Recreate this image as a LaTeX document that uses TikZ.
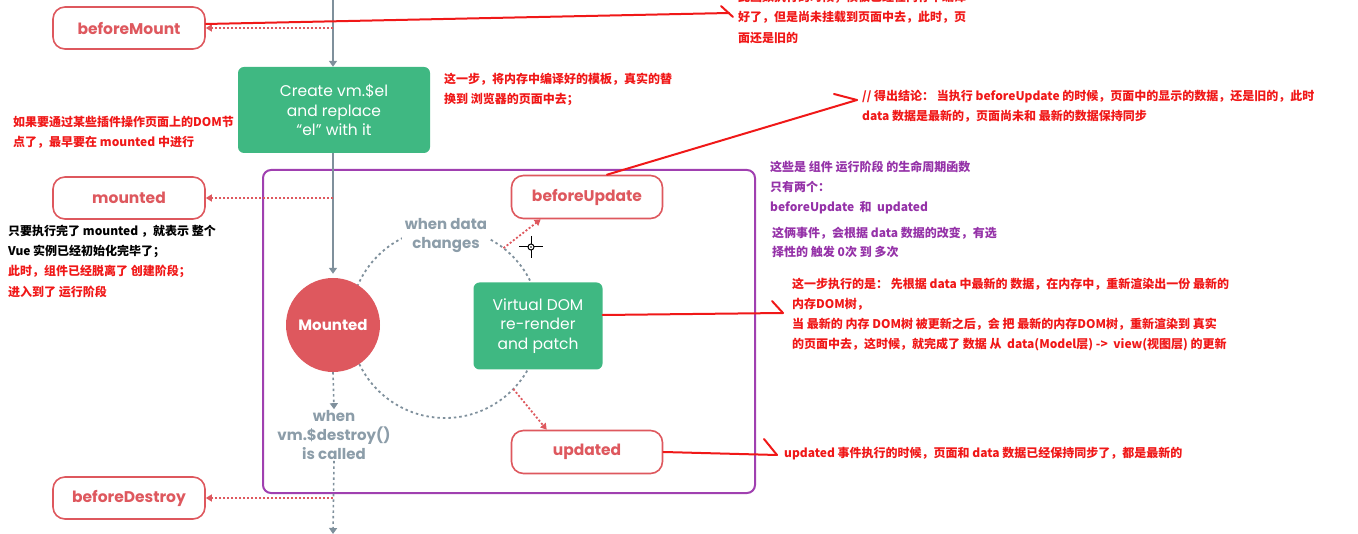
\documentclass[tikz,border=0pt]{standalone}
\usepackage{fontspec}
\setmainfont{Poppins}
\newfontfamily\cjk{Noto Sans CJK SC}
\usetikzlibrary{arrows.meta,calc}

\definecolor{vgreen}{HTML}{3FB882}
\definecolor{hookred}{HTML}{DE585E}
\definecolor{flowgray}{HTML}{7F909C}
\definecolor{labelgray}{HTML}{8C9DA9}
\definecolor{phase}{HTML}{A040B0}
\definecolor{notered}{HTML}{F01818}
\definecolor{notepurple}{HTML}{9532A8}

\tikzset{
  hookbox/.style={draw=hookred, line width=1.6pt, rounded corners=12pt, fill=white,
    minimum width=152pt, minimum height=42pt, text=hookred,
    font=\bfseries\fontsize{15.5}{18}\selectfont},
  stepbox/.style={fill=vgreen, rounded corners=6pt, text=white, align=center,
    font=\fontsize{15.5}{19.5}\selectfont},
  flow/.style={draw=flowgray, line width=1.6pt, -{Triangle[length=6pt,width=8pt]}},
  flowdot/.style={flow, dash pattern=on 2.5pt off 3pt},
  callback/.style={draw=hookred, line width=1.8pt, dash pattern=on 2pt off 2pt,
    -{Triangle[length=6pt,width=7pt]}},
  cond/.style={text=labelgray, fill=white, align=center, inner sep=3pt,
    font=\bfseries\fontsize{15}{19}\selectfont},
  note/.style={anchor=north west, inner sep=0pt, align=left, text=notered,
    font=\cjk\bfseries\fontsize{12}{20.3}\selectfont},
  pointer/.style={draw=notered, line width=2pt, line cap=round},
}

\begin{document}
\begin{tikzpicture}[x=1pt,y=-1pt]
\useasboundingbox (0,0) rectangle (1358,534);

% running phase frame
\draw[phase, line width=2pt, rounded corners=8pt] (263,170) rectangle (755,493);

% update cycle
\node[circle, draw=flowgray, line width=1.8pt, dash pattern=on 2.5pt off 3pt,
      minimum size=190pt, inner sep=0pt, outer sep=0pt] (cycle) at (445,323) {};

% lifecycle steps
\node[hookbox] (bm) at (129,28) {beforeMount};
\node[stepbox, minimum width=192pt, minimum height=86pt] (create) at (334,110)
  {Create vm.\$el\\and replace\\“el” with it};
\node[hookbox] (md) at (129,198) {mounted};
\node[circle, fill=hookred, minimum size=94pt, inner sep=0pt, text=white,
      font=\bfseries\fontsize{15}{18}\selectfont] (mc) at (333,325) {Mounted};
\node[stepbox, minimum width=129pt, minimum height=87pt] (vdom) at (538,326)
  {Virtual DOM\\re-render\\and patch};
\node[hookbox, minimum width=151pt, minimum height=43pt] (bu) at (587,197) {beforeUpdate};
\node[hookbox, minimum width=151pt, minimum height=43pt] (up) at (587,452) {updated};
\node[hookbox] (bd) at (129,498) {beforeDestroy};

\node[cond] (chg) at (446,236) {when data\\changes};
\node[cond, inner sep=1pt] (dst) at (334,435) {when\\vm.\$destroy()\\is called};

% main flow
\coordinate (top) at (333,-2);
\coordinate (bottom) at (333,534);
\draw[flow] (top) -- (create.north -| top);
\draw[flow, shorten >=4pt] (create.south -| top) -- (mc.north);
\draw[flowdot] (mc.south) -- (dst.north);
\draw[flowdot] (dst.south) -- (bottom);

% hook calls
\draw[callback] (top |- bm.east) -- (bm.east);
\draw[callback] (top |- md.east) -- (md.east);
\draw[callback] (top |- bd.east) -- (bd.east);
\draw[callback] (cycle.52) -- ($(bu.south west)+(30,0)$);
\draw[callback] (cycle.-44) -- ($(up.north west)+(36,0)$);

% annotations
\coordinate (n1) at (729,13);
\draw[pointer] ([yshift=4pt]bm.east) -- (n1);
\draw[pointer] ($(n1)+(-8,-7)$) -- ($(n1)+(4,4)$);
\node[note] (t1) at (738,-9)
  {此函数执行的时候，模板已经在内存中编译\\好了，但是尚未挂载到页面中去，此时，页\\面还是旧的};

\node[note] (t2) at (444,73)
  {这一步，将内存中编译好的模板，真实的替\\换到 浏览器的页面中去；};

\node[note] (t3) at (13,116)
  {如果要通过某些插件操作页面上的DOM节\\点了，最早要在 mounted 中进行};

\node[note, text=black] (t4) at (8,224.5)
  {只要执行完了 mounted ，就表示 整个\\Vue 实例已经初始化完毕了；\\\textcolor{notered}{此时，组件已经脱离了 创建阶段；}\\\textcolor{notered}{进入到了 运行阶段}};

\coordinate (n2) at (857,100);
\draw[pointer] ([xshift=20pt]bu.north) -- (n2);
\draw[pointer] (834,94) -- (n2);
\node[note] (t5) at (862,89.5)
  {// 得出结论： 当执行 beforeUpdate 的时候，页面中的显示的数据，还是旧的，此时\\data 数据是最新的，页面尚未和 最新的数据保持同步};

\node[note, text=notepurple] (t6) at (770,160.5)
  {这些是 组件 运行阶段 的生命周期函数\\只有两个：\\beforeUpdate\ \ 和\ \ updated};
\node[note, text=notepurple, font=\cjk\bfseries\fontsize{12}{19.5}\selectfont] (t7) at (772,226.5)
  {这俩事件，会根据 data 数据的改变，有选\\择性的 触发 0次 到 多次};

\coordinate (n3) at (783,313);
\draw[pointer] ([yshift=11pt]vdom.east) -- (n3);
\draw[pointer] (772,301) -- (n3);
\node[note] (t8) at (792,277.5)
  {这一步执行的是： 先根据 data 中最新的 数据，在内存中，重新渲染出一份 最新的\\内存DOM树，\\当 最新的 内存 DOM树 被更新之后，会 把 最新的内存DOM树，重新渲染到 真实\\的页面中去，这时候，就完成了 数据 从\ \ data(Model层) ->\ \ view(视图层) 的更新};

\coordinate (n4) at (777,455);
\draw[pointer] (up.east) -- (n4);
\draw[pointer] (764,439) -- (n4);
\node[note] (t9) at (784,446.5)
  {updated 事件执行的时候，页面和 data 数据已经保持同步了，都是最新的};

% pointer cursor
\draw[black, line width=1pt] (531,236) -- (531,258) (519,247) -- (543,247);
\draw[black, line width=1pt, fill=white] (531,247) circle (3pt);
\fill[black] (531,247) circle (0.9pt);
\end{tikzpicture}
\end{document}
